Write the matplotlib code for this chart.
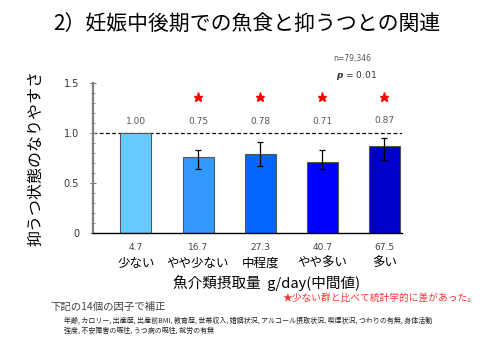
import matplotlib
matplotlib.use("Agg")
import matplotlib.pyplot as plt
import matplotlib.transforms as mtransforms
from matplotlib.ticker import MultipleLocator

plt.rcParams['font.family'] = ['Noto Sans CJK JP', 'DejaVu Sans']

categories = ["少ない", "やや少ない", "中程度", "やや多い", "多い"]
medians = ["4.7", "16.7", "27.3", "40.7", "67.5"]
odds = [1.00, 0.75, 0.78, 0.71, 0.87]
value_labels = ["1.00", "0.75", "0.78", "0.71", "0.87"]
bar_heights = [1.00, 0.757, 0.785, 0.71, 0.865]
err_low = [None, 0.64, 0.665, 0.637, 0.725]
err_high = [None, 0.83, 0.905, 0.83, 0.953]
significant = [False, True, True, True, True]
colors = ["#66CCFF", "#3399FF", "#0066FF", "#0000FF", "#0000CC"]

fig = plt.figure(figsize=(4.8, 3.6), dpi=100)
ax = fig.add_axes([0.194, 0.353, 0.644, 0.417])

x = list(range(len(categories)))
ax.bar(x, bar_heights, width=0.5, color=colors, edgecolor="#555555", linewidth=0.8, zorder=2)
for i in x:
    if err_low[i] is not None:
        ax.errorbar(i, bar_heights[i],
                    yerr=[[bar_heights[i] - err_low[i]], [err_high[i] - bar_heights[i]]],
                    fmt='none', ecolor='black', elinewidth=0.9, capsize=2, capthick=0.9, zorder=3)
    ax.text(i, 1.11 if i < 4 else 1.125, value_labels[i], ha='center', va='center',
            fontsize=6.5, color='#555555', family='DejaVu Sans')
    if significant[i]:
        ax.plot(i, 1.36, marker='*', color='red', markersize=6.5, linestyle='none')

ax.axhline(1.0, color='black', linestyle=(0, (3, 2)), linewidth=0.9, zorder=1)

ax.set_xlim(-0.69, 4.29)
ax.set_ylim(0, 1.5)
ax.set_yticks([0, 0.5, 1.0, 1.5])
ax.set_yticklabels(["0", "0.5", "1.0", "1.5"], fontsize=7, color='#333333', family='DejaVu Sans')
ax.yaxis.set_minor_locator(MultipleLocator(0.1))
ax.tick_params(axis='y', which='major', direction='inout', length=4, width=0.8, color='#777777', pad=8)
ax.tick_params(axis='y', which='minor', direction='inout', length=2.5, width=0.6, color='#777777')
ax.set_xticks([])
for s in ['top', 'right']:
    ax.spines[s].set_visible(False)
ax.spines['left'].set_color('#808080')
ax.spines['left'].set_linewidth(1.6)
ax.spines['bottom'].set_color('black')
ax.spines['bottom'].set_linewidth(1.0)

trans = mtransforms.blended_transform_factory(ax.transData, fig.transFigure)
for i in x:
    ax.text(i, 1 - 247 / 360, medians[i], transform=trans, ha='center', va='center',
            fontsize=6.5, color='#444444', family='DejaVu Sans')
    ax.text(i, 1 - 263 / 360, categories[i], transform=trans, ha='center', va='center',
            fontsize=9, color='black')

fig.text(0.075, 0.56, "抑うつ状態のなりやすさ", rotation=90, ha='center', va='center', fontsize=11.5)
fig.text(0.515, 1 - 25 / 360, "2）妊娠中後期での魚食と抑うつとの関連", ha='center', va='center', fontsize=15)
fig.text(333 / 480, 1 - 58 / 360, "n=79,346", ha='left', va='center', fontsize=5.5,
         color='#555555', family='DejaVu Sans')
fig.text(336 / 480, 1 - 75 / 360, r"$\boldsymbol{p}$ = 0.01", ha='left', va='center', fontsize=6.5,
         color='#333333', family='DejaVu Sans')
fig.text(0.556, 1 - 283 / 360, "魚介類摂取量  g/day(中間値)", ha='center', va='center', fontsize=10.5)
fig.text(283 / 480, 1 - 298 / 360, "★少ない群と比べて統計学的に差があった。", ha='left', va='center',
         fontsize=7, color='#FF3333')
fig.text(50 / 480, 1 - 307 / 360, "下記の14個の因子で補正", ha='left', va='center', fontsize=7.5, color='#444444')
fig.text(64 / 480, 1 - 321 / 360,
         "年齢, カロリー, 出産歴, 出産前BMI, 教育歴, 世帯収入, 婚姻状況, アルコール摂取状況, 喫煙状況, つわりの有無, 身体活動",
         ha='left', va='center', fontsize=5.0, color='#222222')
fig.text(64 / 480, 1 - 331 / 360, "強度, 不安障害の既往, うつ病の既往, 就労の有無",
         ha='left', va='center', fontsize=5.0, color='#222222')

fig.savefig("out.png", dpi=100)
